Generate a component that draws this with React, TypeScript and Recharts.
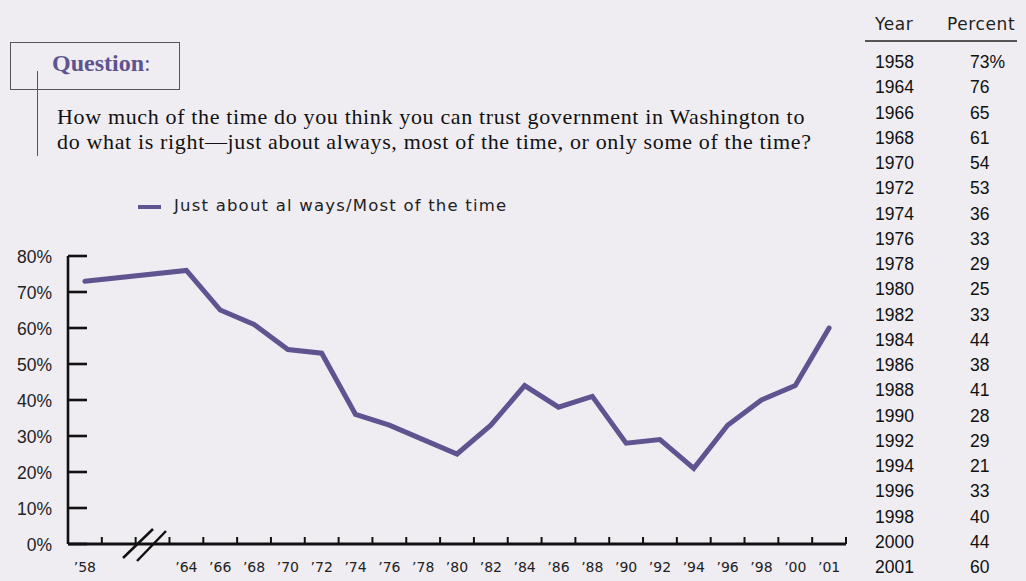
import { LineChart, Line, XAxis, YAxis } from 'recharts'

// survey years and share who trust government "always / most of the time"
const years = [1958, 1964, 1966, 1968, 1970, 1972, 1974, 1976, 1978, 1980, 1982, 1984, 1986, 1988, 1990, 1992, 1994, 1996, 1998, 2000, 2001]
const trust = [73, 76, 65, 61, 54, 53, 36, 33, 29, 25, 33, 44, 38, 41, 28, 29, 21, 33, 40, 44, 60]
const yTicks = [0, 10, 20, 30, 40, 50, 60, 70, 80]
// empty slots drawn after 1958 for the axis break
const breakSlots = 2

const PURPLE = '#5F5490'
const BG = '#EFEDF2'

const W = 1026
const H = 581
const PLOT_LEFT = 68
const PLOT_RIGHT = 846
const AXIS_Y = 544

const yearLabel = (y: number) => '\u2019' + String(y).slice(2)

const data = [
  { cat: yearLabel(years[0]), value: trust[0] },
  ...Array.from({ length: breakSlots }, (_, i) => ({ cat: ' '.repeat(i + 1), value: null })),
  ...years.slice(1).map((y, i) => ({ cat: yearLabel(y), value: trust[i + 1] })),
]
const bandW = (PLOT_RIGHT - PLOT_LEFT) / data.length

function XTick(props: any) {
  const { x, payload } = props
  return (
    <g>
      <line x1={x + bandW / 2} x2={x + bandW / 2} y1={AXIS_Y} y2={AXIS_Y - 7} stroke="#111" strokeWidth={2} />
      <text x={x} y={572} textAnchor="middle" fontFamily="DejaVu Sans" fontSize={14} fill="#222">
        {payload.value.trim()}
      </text>
    </g>
  )
}

function YTick(props: any) {
  const { y, payload } = props
  return (
    <g>
      <line x1={PLOT_LEFT} x2={PLOT_LEFT + 19} y1={y} y2={y} stroke="#111" strokeWidth={2.6} />
      <text x={52} y={y + 6.5} textAnchor="end" fontFamily="Liberation Sans" fontSize={17.5} fill="#222">
        {payload.value}%
      </text>
    </g>
  )
}

export default function App() {
  return (
    <div style={{ position: 'absolute', left: 0, top: 0, width: W, height: H, background: BG, overflow: 'hidden' }}>
      {/* question box */}
      <div style={{ position: 'absolute', left: 10, top: 42, width: 168, height: 46, border: '1px solid #555' }} />
      <div style={{ position: 'absolute', left: 37, top: 71, width: 1, height: 85, background: '#555' }} />
      <div style={{ position: 'absolute', left: 52, top: 50, fontFamily: 'Liberation Serif', fontSize: 24, color: PURPLE, whiteSpace: 'nowrap' }}>
        <b>Question</b>:
      </div>
      <div style={{ position: 'absolute', left: 57, top: 104, fontFamily: 'Liberation Serif', fontSize: 22, lineHeight: '25px', color: '#111', whiteSpace: 'nowrap', letterSpacing: 0.65 }}>
        How much of the time do you think you can trust government in Washington to
        <br />
        do what is right—just about always, most of the time, or only some of the time?
      </div>

      {/* legend */}
      <div style={{ position: 'absolute', left: 138, top: 205, width: 23, height: 4, background: PURPLE }} />
      <div style={{ position: 'absolute', left: 174, top: 196, fontFamily: 'DejaVu Sans', fontSize: 16.5, color: '#222', whiteSpace: 'pre', letterSpacing: 1.2 }}>
        Just about al ways/Most of the time
      </div>

      {/* table */}
      <div style={{ position: 'absolute', left: 875, top: 14, fontFamily: 'DejaVu Sans', fontSize: 17, color: '#222', letterSpacing: 0.6 }}>Year</div>
      <div style={{ position: 'absolute', left: 947, top: 14, fontFamily: 'DejaVu Sans', fontSize: 17, color: '#222', letterSpacing: 0.6 }}>Percent</div>
      <div style={{ position: 'absolute', left: 865, top: 40, width: 152, height: 1.5, background: '#555' }} />
      {years.map((y, i) => (
        <div key={y} style={{ position: 'absolute', left: 875, top: 52 + i * 25.25, fontFamily: 'Liberation Sans', fontSize: 17.5, color: '#111', whiteSpace: 'nowrap' }}>
          <span style={{ position: 'absolute', left: 0 }}>{y}</span>
          <span style={{ position: 'absolute', left: 95 }}>{trust[i]}{i === 0 ? '%' : ''}</span>
        </div>
      ))}

      <div style={{ position: 'absolute', left: 0, top: 0 }}>
        <LineChart width={W} height={H} data={data} margin={{ top: 256, right: W - PLOT_RIGHT, bottom: 0, left: 0 }}>
          <XAxis
            dataKey="cat"
            interval={0}
            height={H - AXIS_Y}
            padding={{ left: bandW / 2, right: bandW / 2 }}
            tickLine={false}
            axisLine={{ stroke: '#111', strokeWidth: 3 }}
            tick={<XTick />}
          />
          <YAxis
            width={PLOT_LEFT}
            domain={[0, 80]}
            ticks={yTicks}
            interval={0}
            tickLine={false}
            axisLine={{ stroke: '#111', strokeWidth: 2.6 }}
            tick={<YTick />}
          />
          <Line
            dataKey="value"
            type="linear"
            stroke={PURPLE}
            strokeWidth={5}
            strokeLinecap="round"
            dot={false}
            connectNulls
            isAnimationActive={false}
          />
        </LineChart>
      </div>

      {/* axis break marks */}
      <svg width={W} height={H} style={{ position: 'absolute', left: 0, top: 0, pointerEvents: 'none' }}>
        <line x1={123} y1={558} x2={153} y2={529} stroke="#111" strokeWidth={2.5} />
        <line x1={137} y1={561} x2={166} y2={531} stroke="#111" strokeWidth={2.5} />
      </svg>
    </div>
  )
}
